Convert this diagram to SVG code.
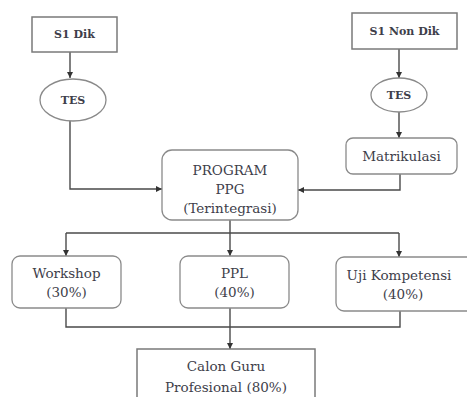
<svg xmlns="http://www.w3.org/2000/svg" width="467" height="397" viewBox="0 0 467 397">
<style>
.box{fill:#fff;stroke:#7a7a7a;stroke-width:1.5}
.rbox{fill:#fff;stroke:#8a8a8a;stroke-width:1.3}
.ln{fill:none;stroke:#4a4a4a;stroke-width:1.4}
text{font-family:"DejaVu Serif","Liberation Serif",serif;fill:#3e3e4a;text-anchor:middle;dominant-baseline:central}
.b{font-weight:bold;font-size:11px}
.t{font-size:13.5px}
</style>
<defs>
<marker id="ah" viewBox="0 0 10 10" refX="10" refY="5" markerWidth="6" markerHeight="6" orient="auto" markerUnits="userSpaceOnUse">
<path d="M0,0 L10,5 L0,10 z" fill="#333"/>
</marker>
</defs>
<rect width="467" height="397" fill="#fff"/>
<g id="connectors">
<path class="ln" d="M70,52 V78" marker-end="url(#ah)"/>
<path class="ln" d="M70,121 V189 H162" marker-end="url(#ah)"/>
<path class="ln" d="M399,49 V78" marker-end="url(#ah)"/>
<path class="ln" d="M399,112 V138" marker-end="url(#ah)"/>
<path class="ln" d="M400,174 V190 H298" marker-end="url(#ah)"/>
<path class="ln" d="M230,220 V256" marker-end="url(#ah)"/>
<path class="ln" d="M66,233 H399"/>
<path class="ln" d="M66,233 V256" marker-end="url(#ah)"/>
<path class="ln" d="M399,233 V257" marker-end="url(#ah)"/>
<path class="ln" d="M66,308 V327 H400 V311"/>
<path class="ln" d="M230,308 V349" marker-end="url(#ah)"/>
</g>
<g id="s1dik">
<rect class="box" x="32" y="17" width="85" height="35"/>
<text class="b" x="74.5" y="34.5">S1 Dik</text>
</g>
<g id="tes1">
<ellipse class="rbox" cx="73" cy="100" rx="33" ry="21"/>
<text class="b" x="73" y="100">TES</text>
</g>
<g id="s1nondik">
<rect class="box" x="352" y="13" width="105" height="36"/>
<text class="b" x="404.5" y="31">S1 Non Dik</text>
</g>
<g id="tes2">
<ellipse class="rbox" cx="399" cy="95" rx="28" ry="17"/>
<text class="b" x="399" y="95">TES</text>
</g>
<g id="matrikulasi">
<rect class="rbox" x="346" y="138" width="111" height="36" rx="7"/>
<text class="t" x="401.5" y="156">Matrikulasi</text>
</g>
<g id="program">
<rect class="rbox" x="162" y="150" width="136" height="70" rx="10"/>
<text class="t" x="230" y="170">PROGRAM</text>
<text class="t" x="230" y="189">PPG</text>
<text class="t" x="230" y="208">(Terintegrasi)</text>
</g>
<g id="workshop">
<rect class="rbox" x="12" y="256" width="109" height="52" rx="8"/>
<text class="t" x="66.5" y="273">Workshop</text>
<text class="t" x="66.5" y="292">(30%)</text>
</g>
<g id="ppl">
<rect class="rbox" x="180" y="256" width="109" height="52" rx="8"/>
<text class="t" x="234.5" y="273">PPL</text>
<text class="t" x="234.5" y="292">(40%)</text>
</g>
<g id="uji">
<rect class="rbox" x="336" y="257" width="140" height="54" rx="8"/>
<text class="t" x="399" y="275">Uji Kompetensi</text>
<text class="t" x="403" y="294">(40%)</text>
</g>
<g id="calon">
<rect class="box" x="137" y="349" width="178" height="60"/>
<text class="t" x="226" y="366">Calon Guru</text>
<text class="t" x="226" y="387">Profesional (80%)</text>
</g>
</svg>
